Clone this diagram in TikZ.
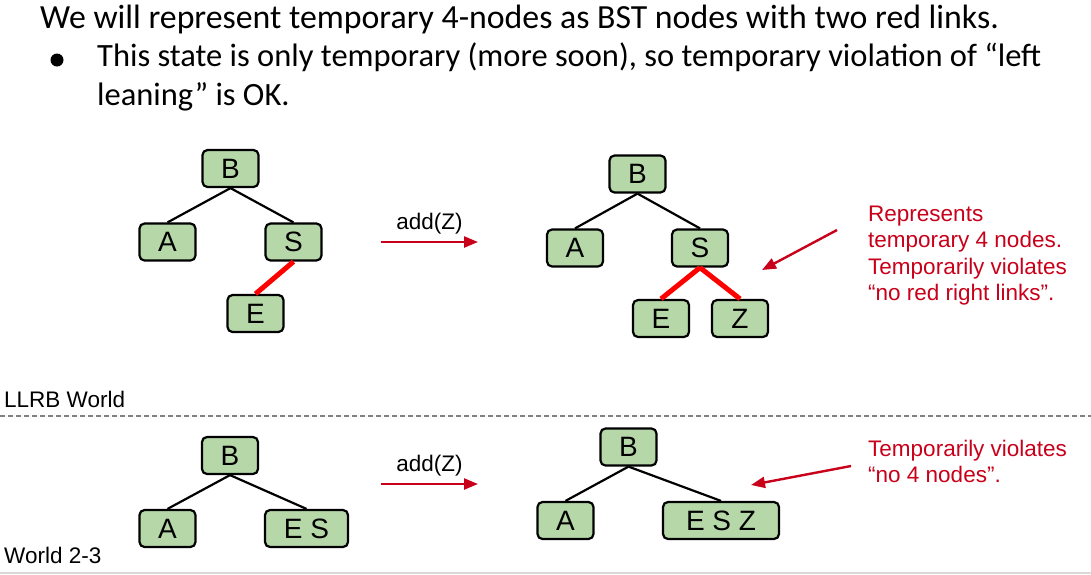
\documentclass[tikz,border=0pt]{standalone}
\usepackage{fontspec}
\setmainfont{Liberation Sans}
\newfontfamily\slidefont{Carlito}
\usetikzlibrary{arrows.meta}

\definecolor{keygreen}{HTML}{B6D7A8}
\definecolor{notered}{HTML}{C8001A}
\definecolor{linkred}{HTML}{FF0000}

\begin{document}
\begin{tikzpicture}[
          x=1pt, y=-1pt,
          key/.style={draw, line width=2.2pt, fill=keygreen, rounded corners=5pt, minimum height=37pt, minimum width=56pt, inner sep=0pt, font=\fontsize{28}{28}\selectfont},
          link/.style={line width=2.2pt},
          redlink/.style={line width=5pt, draw=linkred},
          pointer/.style={draw=notered, line width=2.4pt, -{Triangle[length=14pt, width=11pt]}},
          note/.style={text=notered, anchor=base west, align=left, inner sep=0pt, font=\fontsize{22.5}{26.5}\selectfont},
          world/.style={anchor=base west, inner sep=0pt, font=\fontsize{22.5}{22.5}\selectfont},
          slide/.style={anchor=base west, inner sep=0pt, align=left, font=\slidefont\fontsize{32.5}{39}\selectfont},
          ]

          \useasboundingbox (0,0) rectangle (1091,574);

          \node[slide, font=\slidefont\fontsize{33.8}{39}\selectfont] (intro) at (40,28) {We will represent temporary 4-nodes as BST nodes with two red links.};
          \node[circle, fill, inner sep=0pt, minimum size=13pt] (bullet) at (57,60) {};
          \node[slide] (point) at (97,105) {This state is only temporary (more soon), so temporary violation of “left\\leaning” is OK.};

          % LLRB world
          \node[key] (tB) at (230.5,168.5) {B};
          \node[key] (tA) at (167.5,242) {A};
          \node[key] (tS) at (293.5,242) {S};
          \node[key] (tE) at (255.5,313.5) {E};
          \draw[link] (tB.south) -- (tA.north);
          \draw[link] (tB.south) -- (tS.north);
          \draw[redlink] (tS.south) -- (tE.north);

          \coordinate (addT1) at (381,242);
          \coordinate (addT2) at (478,242);
          \draw[pointer] (addT1) -- node[above=3pt, text=black, font=\fontsize{22.5}{22.5}\selectfont]{add(Z)} (addT2);

          \node[key] (uB) at (637.5,174) {B};
          \node[key] (uA) at (575,248) {A};
          \node[key] (uS) at (700,248) {S};
          \node[key] (uE) at (661,318.5) {E};
          \node[key] (uZ) at (740,318.5) {Z};
          \draw[link] (uB.south) -- (uA.north);
          \draw[link] (uB.south) -- (uS.north);
          \draw[redlink] (uS.south) -- (uE.north);
          \draw[redlink] (uS.south) -- (uZ.north);

          \node[note] (noteT) at (868,300.5) {Represents\\temporary 4 nodes.\\Temporarily violates\\“no red right links”.};
          \coordinate (ptrT1) at (837,230);
          \coordinate (ptrT2) at (762,270);
          \draw[pointer] (ptrT1) -- (ptrT2);

          \node[world] (llrb) at (4,407) {LLRB World};
          \coordinate (sepL) at (0,416);
          \coordinate (sepR) at (1091,416);
          \draw[draw=black!50, line width=1.2pt, dash pattern=on 5pt off 3pt] (sepL) -- (sepR);

          % 2-3 world
          \node[key] (dB) at (230,455.5) {B};
          \node[key] (dA) at (167.5,528.5) {A};
          \node[key, minimum width=83pt] (dES) at (306.5,528.5) {E S};
          \draw[link] (dB.south) -- (dA.north);
          \draw[link] (dB.south) -- (dES.north);

          \coordinate (addD1) at (381,484);
          \coordinate (addD2) at (478,484);
          \draw[pointer] (addD1) -- node[above=3pt, text=black, font=\fontsize{22.5}{22.5}\selectfont]{add(Z)} (addD2);

          \node[key] (eB) at (628.5,447) {B};
          \node[key] (eA) at (565.5,520.5) {A};
          \node[key, minimum width=116pt] (eESZ) at (721,520.5) {E S Z};
          \draw[link] (eB.south) -- (eA.north);
          \draw[link] (eB.south) -- (eESZ.north);

          \node[note] (noteD) at (868,482.5) {Temporarily violates\\“no 4 nodes”.};
          \coordinate (ptrD1) at (851,466);
          \coordinate (ptrD2) at (751,485);
          \draw[pointer] (ptrD1) -- (ptrD2);

          \node[world] (two3) at (4,563) {World 2-3};
          \coordinate (baseL) at (0,573);
          \coordinate (baseR) at (1091,573);
          \draw[draw=black!15, line width=2pt] (baseL) -- (baseR);

        \end{tikzpicture}
\end{document}
